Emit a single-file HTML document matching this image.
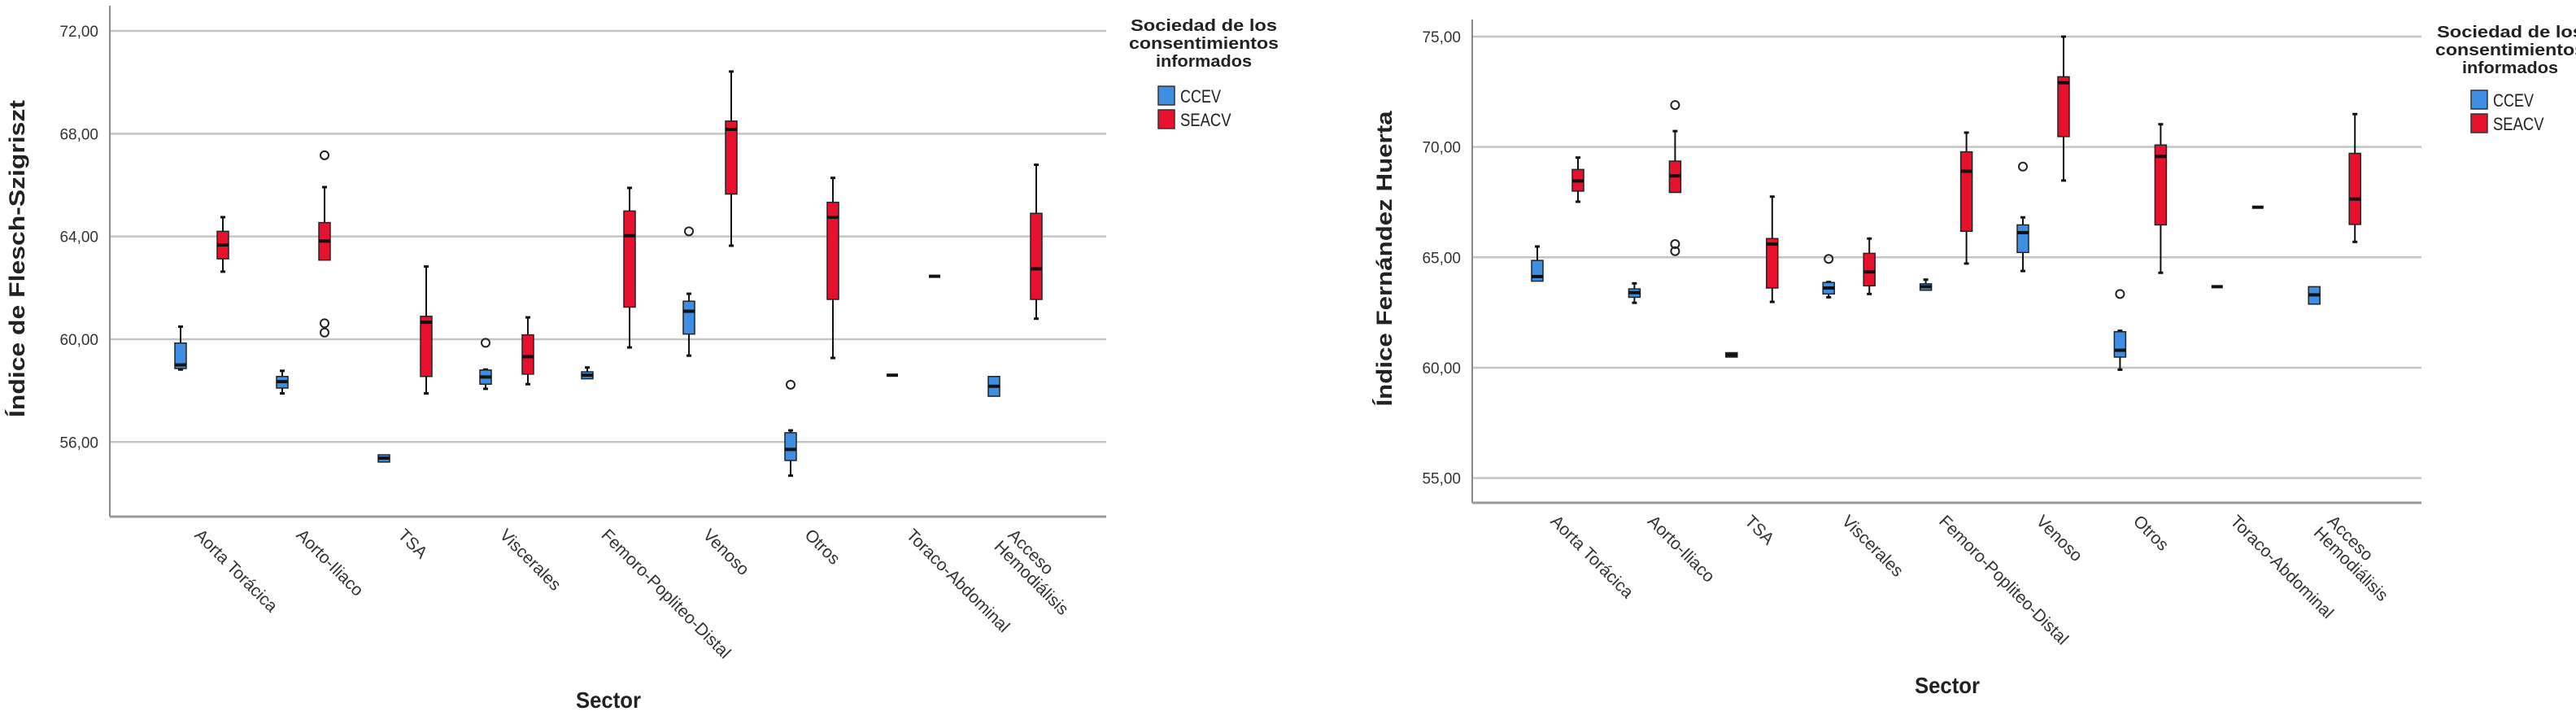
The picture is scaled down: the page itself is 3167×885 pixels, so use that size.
<!DOCTYPE html>
<html><head><meta charset="utf-8"><style>
html,body{margin:0;padding:0;background:#fff;}
svg{display:block;font-family:"Liberation Sans","DejaVu Sans",sans-serif;}
</style></head><body>
<svg id="root" width="3167" height="885" viewBox="0 0 3167 885"></svg>
<script>
const categories = ["Aorta Torácica","Aorto-Iliaco","TSA","Viscerales","Femoro-Popliteo-Distal","Venoso","Otros","Toraco-Abdominal","Acceso|Hemodiálisis"];
const seriesNames = ["CCEV","SEACV"];
// [low, q1, median, q3, high]
const fsCcev = [[58.82,58.86,59.0,59.85,60.49],[57.89,58.1,58.35,58.55,58.77],[55.22,55.22,55.37,55.5,55.5],[58.07,58.25,58.53,58.8,58.82],[58.46,58.46,58.6,58.73,58.9],[59.36,60.2,61.09,61.48,61.77],[54.69,55.28,55.71,56.36,56.45],[58.6,58.6,58.6,58.6,58.6],[57.78,57.78,58.17,58.55,58.55]];
const fsSeacv = [[62.63,63.13,63.67,64.2,64.75],[63.08,63.08,63.82,64.54,65.92],[57.89,58.55,60.66,60.89,62.83],[58.25,58.64,59.32,60.17,60.85],[59.68,61.25,64.03,64.99,65.89],[63.64,65.65,68.17,68.49,70.42],[59.27,61.55,64.75,65.33,66.28],[62.45,62.45,62.45,62.45,62.45],[60.8,61.55,62.74,64.9,66.79]];
const fsCcevOut = [[],[],[],[59.86],[],[64.2],[58.23],[],[]];
const fsSeacvOut = [[],[67.16,60.62,60.26],[],[],[],[],[],[],[]];
const fsTicks = [56,60,64,68,72];
const fhCcev = [[63.92,63.92,64.13,64.86,65.49],[62.94,63.19,63.4,63.57,63.82],[60.48,60.48,60.58,60.68,60.68],[63.19,63.34,63.61,63.86,63.88],[63.51,63.51,63.67,63.8,63.99],[64.38,65.22,66.12,66.47,66.81],[59.91,60.48,60.79,61.63,61.67],[63.67,63.67,63.67,63.67,63.67],[62.88,62.88,63.3,63.67,63.67]];
const fhSeacv = [[67.52,68.0,68.46,68.98,69.52],[67.94,67.94,68.69,69.36,70.72],[62.98,63.61,65.6,65.85,67.75],[63.34,63.71,64.34,65.18,65.85],[64.72,66.18,68.9,69.78,70.65],[68.48,70.47,72.91,73.18,75.0],[64.3,66.47,69.57,70.09,71.03],[67.27,67.27,67.27,67.27,67.27],[65.7,66.49,67.64,69.71,71.49]];
const fhCcevOut = [[],[],[],[64.93],[],[69.11],[63.34],[],[]];
const fhSeacvOut = [[],[71.9,65.6,65.28],[],[],[],[],[],[],[]];
const fhTicks = [55,60,65,70,75];

const NS="http://www.w3.org/2000/svg";
const root=document.getElementById('root');
function mk(tag,attrs,parent){const e=document.createElementNS(NS,tag);for(const k in attrs)e.setAttribute(k,attrs[k]);(parent||root).appendChild(e);return e;}
const colors=["#3d8fe3","#e8112d"];

function drawChart(cfg){
  const g=mk('g',{});
  
  
  const y=v=>cfg.y0+(cfg.vTop-v)*cfg.ppu;
  const xc=i=>cfg.c0+cfg.step*i;
  cfg.ticks.forEach(t=>{
    const l=mk('line',{x1:cfg.left,x2:cfg.right,y1:y(t),y2:y(t),stroke:'#c4c4c4','stroke-width':2.5},g);
    
    
    const tx=mk('text',{x:cfg.left-14,y:y(t)+7,'text-anchor':'end','font-size':19,fill:'#333'},g);
    tx.textContent=t.toFixed(2).replace('.',',');
    
    
  });
  const ax=mk('line',{x1:cfg.left,x2:cfg.left,y1:cfg.top,y2:cfg.bottom,stroke:'#888','stroke-width':2},g);
  
  
  const bx=mk('line',{x1:cfg.left,x2:cfg.right,y1:cfg.bottom,y2:cfg.bottom,stroke:'#999','stroke-width':3},g);
  
  
  [cfg.s0,cfg.s1].forEach((stats,si)=>{
    const outs=si?cfg.o1:cfg.o0;
    stats.forEach((s,i)=>{
      const cx=xc(i)+(si?cfg.off:-cfg.off);
      const w=14;
      const bg=mk('g',{},g);
      
      
      if(s[4]>s[3]) mk('line',{x1:cx,x2:cx,y1:y(s[4]),y2:y(s[3]),stroke:'#111','stroke-width':2},bg);
      if(s[1]>s[0]) mk('line',{x1:cx,x2:cx,y1:y(s[1]),y2:y(s[0]),stroke:'#111','stroke-width':2},bg);
      if(s[4]>s[3]) mk('line',{x1:cx-3,x2:cx+3,y1:y(s[4]),y2:y(s[4]),stroke:'#111','stroke-width':3},bg);
      if(s[1]>s[0]) mk('line',{x1:cx-3,x2:cx+3,y1:y(s[0]),y2:y(s[0]),stroke:'#111','stroke-width':3},bg);
      const h=Math.max(y(s[1])-y(s[3]),0);
      if(h>1) mk('rect',{x:cx-w/2,y:y(s[3]),width:w,height:h,fill:colors[si],stroke:'#222','stroke-width':1.5},bg);
      mk('line',{x1:cx-w/2,x2:cx+w/2,y1:y(s[2]),y2:y(s[2]),stroke:'#111','stroke-width':4},bg);
      outs[i].forEach(o=>{
        const c=mk('circle',{cx:cx,cy:y(o),r:5,fill:'none',stroke:'#222','stroke-width':2},g);
        
        
      });
    });
  });
  categories.forEach((c,i)=>{
    const parts=c.split('|');
    const t=mk('text',{transform:`translate(${xc(i)},${cfg.bottom+14}) rotate(45)`,'font-size':21,fill:'#333'},g);
    
    
    parts.forEach((p,k)=>{const ts=mk('tspan',{x:-k*2,y:14+k*22},t);ts.textContent=p;});
  });
  const yt=mk('text',{transform:`translate(${cfg.ytx},${cfg.yty}) rotate(-90)`,'text-anchor':'middle','font-size':27,'font-weight':'bold',fill:'#222',textLength:cfg.ytl,lengthAdjust:'spacingAndGlyphs'},g);
  yt.textContent=cfg.ytitle;
  
  
  const xt=mk('text',{x:cfg.xtx,y:cfg.xty,'text-anchor':'middle','font-size':28,'font-weight':'bold',fill:'#222',textLength:80,lengthAdjust:'spacingAndGlyphs'},g);
  xt.textContent='Sector';
  
  
  const lg=mk('g',{},g);
  
  
  ['Sociedad de los','consentimientos','informados'].forEach((s,k)=>{
    const t=mk('text',{x:cfg.lgx,y:cfg.lgy+k*22,'text-anchor':'middle','font-size':20,'font-weight':'bold',fill:'#222',textLength:[180,184,118][k],lengthAdjust:'spacingAndGlyphs'},lg);
    t.textContent=s;
  });
  seriesNames.forEach((n,k)=>{
    const e=mk('g',{},lg);
    
    
    mk('rect',{x:cfg.swx,y:cfg.swy+k*29,width:20,height:23,fill:colors[k],stroke:'#333','stroke-width':1.5},e);
    const t=mk('text',{x:cfg.swx+27,y:cfg.swy+k*29+20,'font-size':22,fill:'#222',textLength:n.length*12.5,lengthAdjust:'spacingAndGlyphs'},e);
    t.textContent=n;
  });
}

drawChart({name:'flesch-chart',left:135,right:1360,top:7,bottom:635,vTop:72,y0:38,ppu:31.58,ticks:fsTicks,
  c0:248,step:125,off:26,s0:fsCcev,s1:fsSeacv,o0:fsCcevOut,o1:fsSeacvOut,
  ytitle:'Índice de Flesch-Szigriszt',ytx:30,yty:318,ytl:390,xtx:748,xty:870,
  lgx:1480,lgy:38,swx:1424,swy:106});
drawChart({name:'fernandez-huerta-chart',left:1810,right:2977,top:24,bottom:618,vTop:75,y0:45,ppu:27.13,ticks:fhTicks,
  c0:1915,step:119.4,off:25,s0:fhCcev,s1:fhSeacv,o0:fhCcevOut,o1:fhSeacvOut,
  ytitle:'Índice Fernández Huerta',ytx:1711,yty:318,ytl:363,xtx:2394,xty:852,
  lgx:3086,lgy:46,swx:3038,swy:111});
</script>
</body></html>
